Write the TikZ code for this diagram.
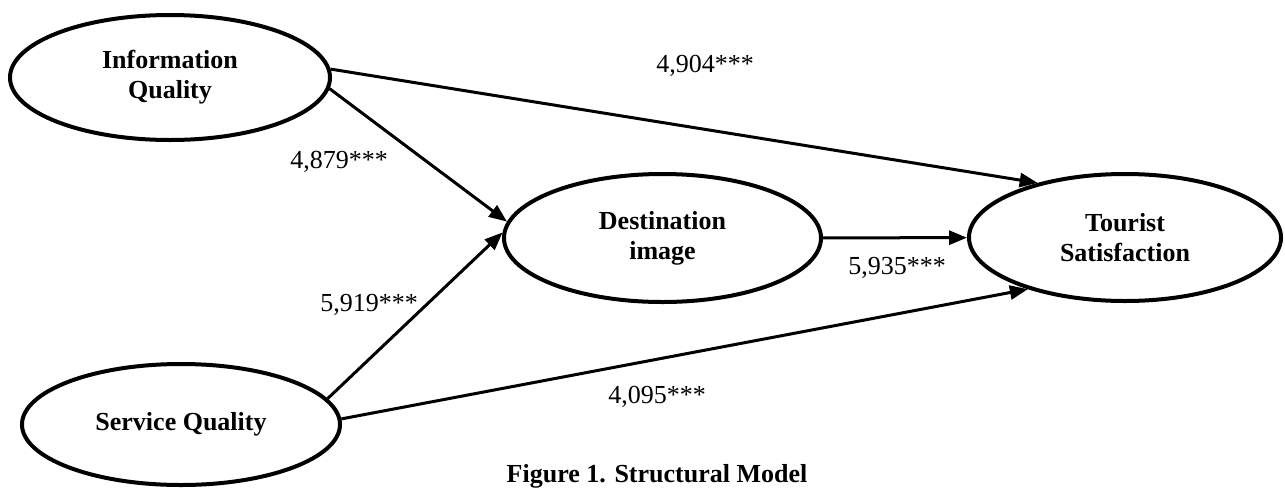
\documentclass[tikz,border=0pt]{standalone}
\usepackage{fontspec}
\setmainfont{Liberation Serif}
\usetikzlibrary{shapes.geometric,arrows.meta}
\begin{document}
\begin{tikzpicture}[x=1pt,y=-1pt,
  latent/.style={ellipse,draw,line width=4pt,inner sep=0pt,align=center,
    font=\bfseries\fontsize{26}{30}\selectfont},
  pathway/.style={line width=3pt,-{Triangle[length=18pt,width=14pt]}},
  coef/.style={font=\fontsize{26}{30}\selectfont,inner sep=0pt},
  caption/.style={font=\bfseries\fontsize{26}{30}\selectfont,inner sep=0pt}]
\useasboundingbox (0,0) rectangle (1285,488);
\node[latent,minimum width=320pt,minimum height=125pt] (IQ) at (170,77.5) {Information\\Quality};
\node[latent,minimum width=317pt,minimum height=128pt] (DI) at (662.5,238) {Destination\\image};
\node[latent,minimum width=312pt,minimum height=127pt] (TS) at (1125,237.5) {Tourist\\Satisfaction};
\node[latent,minimum width=318pt,minimum height=121pt] (SQ) at (181,424.5) {Service Quality};

\draw[pathway] (IQ.3) -- (TS.148);
\draw[pathway] (IQ.-4) -- (DI.174);
\draw[pathway] (SQ.10) -- (DI.178);
\draw[pathway] (SQ.2) -- (TS.208);
\draw[pathway] (DI) -- (TS);

\node[coef] (c1) at (705,66) {4,904***};
\node[coef] (c2) at (339,162) {4,879***};
\node[coef] (c3) at (897,268) {5,935***};
\node[coef] (c4) at (369,305) {5,919***};
\node[coef] (c5) at (657,397) {4,095***};
\node[caption] (cap) at (657,476) {Figure 1. Structural Model};
\end{tikzpicture}
\end{document}
